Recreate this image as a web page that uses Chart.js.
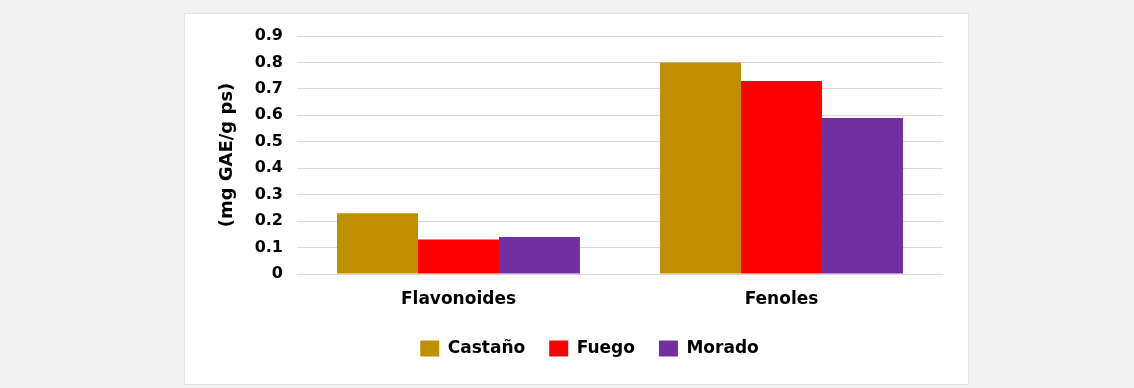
<!DOCTYPE html>
<html>
<head>
<meta charset="utf-8">
<script src="https://cdn.jsdelivr.net/npm/chart.js@4/dist/chart.umd.min.js"></script>
<style>
  html, body { margin: 0; padding: 0; background: #f3f3f3; }
  #panel { position: absolute; left: 184px; top: 13px; width: 783px; height: 370px;
           background: #fff; border: 1px solid #e4e4e4; }
  #wrap { position: absolute; left: 0; top: 0; width: 1134px; height: 388px; }
</style>
</head>
<body>
<div id="panel"></div>
<div id="wrap"><canvas id="grafico"></canvas></div>
<script>
// datos
const categorias = ["Flavonoides", "Fenoles"];
const castano = [0.23, 0.80];
const fuego = [0.13, 0.73];
const morado = [0.14, 0.59];
const series = ["Castaño", "Fuego", "Morado"];
const colores = ["#bf8f00", "#ff0000", "#7030a0"];

const fuente = "'DejaVu Sans', sans-serif";
const ctx = document.getElementById("grafico").getContext("2d");

new Chart(ctx, {
  type: "bar",
  data: {
    labels: categorias,
    datasets: [castano, fuego, morado].map((valores, i) => ({
      label: series[i],
      data: valores,
      backgroundColor: colores[i],
      borderWidth: 0,
      categoryPercentage: 0.752,
      barPercentage: 1.0,
    })),
  },
  options: {
    responsive: true,
    maintainAspectRatio: false,
    animation: false,
    events: [],
    layout: { padding: { left: 236, right: 191, top: 36, bottom: 21 } },
    plugins: {
      tooltip: { enabled: false },
      legend: {
        position: "bottom",
        labels: {
          color: "#000",
          font: { family: fuente, size: 17, weight: "bold" },
          boxWidth: 19,
          boxHeight: 16,
          padding: 24,
        },
      },
    },
    scales: {
      x: {
        grid: { display: false },
        border: { display: false },
        ticks: {
          color: "#000",
          padding: 7,
          font: { family: fuente, size: 17, weight: "bold" },
        },
        afterFit: (scale) => { scale.height = 42; },
      },
      y: {
        min: 0,
        max: 0.9,
        ticks: {
          stepSize: 0.1,
          color: "#000",
          padding: 14,
          font: { family: fuente, size: 16, weight: "bold" },
          callback: (v) => (Math.round(v * 10) / 10).toString(),
        },
        grid: { color: "#d9d9d9", lineWidth: 1, drawTicks: false },
        border: { display: false },
        title: {
          display: true,
          text: "(mg GAE/g ps)",
          color: "#000",
          padding: { top: -19, bottom: 0 },
          font: { family: fuente, size: 18, weight: "bold" },
        },
        afterFit: (scale) => { scale.width = 61; },
      },
    },
  },
});
</script>
</body>
</html>
